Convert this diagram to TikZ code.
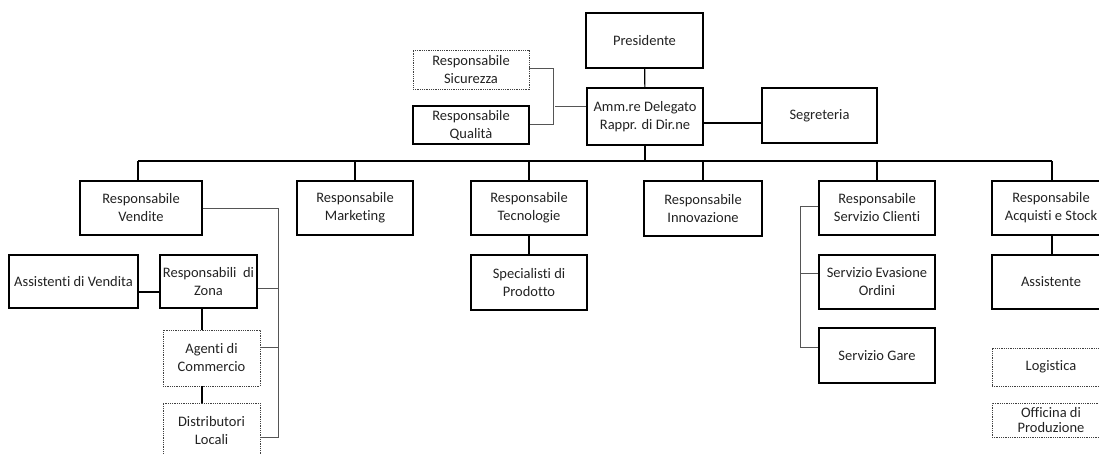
\documentclass[tikz,border=0pt]{standalone}
\usepackage{fontspec}
\setmainfont[Ligatures=NoCommon]{Carlito}
\definecolor{txt}{HTML}{222222}
\definecolor{link}{HTML}{555555}
\tikzset{
  box/.style={draw=black, line width=1.4pt, align=center, inner sep=0pt,
    font=\fontsize{14.5}{18}\selectfont, text=txt},
  dbox/.style={box, draw=black!75, line width=0.9pt, dash pattern=on 0.9pt off 0.9pt},
  conn/.style={draw=black, line width=1.1pt},
  gconn/.style={draw=link, line width=1pt},
}
\begin{document}
\begin{tikzpicture}[x=1pt,y=-1pt]
\useasboundingbox (0,0) rectangle (1099,453);
\clip (0,0) rectangle (1099,453);
% top level
\node[box, minimum width=117, minimum height=55] (pres) at (644.5,40.5) {Presidente};
\node[box, minimum width=116, minimum height=57] (amm) at (645,116.5) {Amm.re Delegato\\Rappr. di Dir.ne};
\node[box, minimum width=115, minimum height=55] (segr) at (819.5,115.5) {Segreteria};
\node[dbox, minimum width=116, minimum height=39] (sic) at (471,69.5) {Responsabile\\Sicurezza};
\node[box, minimum width=116, minimum height=38] (qual) at (471,125) {Responsabile\\Qualità};
% second level
\node[box, minimum width=122, minimum height=54] (vend) at (141,208) {Responsabile\\Vendite};
\node[box, minimum width=116, minimum height=54] (mark) at (355,208) {Responsabile\\Marketing};
\node[box, minimum width=116, minimum height=54] (tecn) at (529,208) {Responsabile\\Tecnologie};
\node[box, minimum width=118, minimum height=55] (innov) at (703,208.5) {Responsabile\\Innovazione};
\node[box, minimum width=116, minimum height=54] (cli) at (877,208) {Responsabile\\Servizio Clienti};
\node[box, minimum width=118, minimum height=54] (acq) at (1051,208) {Responsabile\\Acquisti e Stock};
% third level
\node[box, minimum width=129, minimum height=53] (assv) at (73.5,281.5) {Assistenti di Vendita};
\node[box, minimum width=97, minimum height=53] (zona) at (208.5,281.5) {Responsabili\ \ di\\Zona};
\node[box, minimum width=116, minimum height=55] (spec) at (529,282.5) {Specialisti di\\Prodotto};
\node[box, minimum width=116, minimum height=54] (evas) at (877,282) {Servizio Evasione\\Ordini};
\node[box, minimum width=118, minimum height=54] (assist) at (1051,282) {Assistente};
\node[dbox, minimum width=97, minimum height=56] (agenti) at (211.5,358) {Agenti di\\Commercio};
\node[dbox, minimum width=97, minimum height=55] (distr) at (211.5,430.5) {Distributori\\Locali};
\node[box, minimum width=116, minimum height=55] (gare) at (877,355.5) {Servizio Gare};
\node[dbox, minimum width=118, minimum height=38] (logi) at (1051,367) {Logistica};
\node[dbox, minimum width=118, minimum height=34, font=\fontsize{14.5}{15}\selectfont] (offi) at (1051,420) {Officina di\\Produzione};
% coordinates
\coordinate (busL) at (138,161);
\coordinate (busR) at (1052,161);
\coordinate (bus) at (645,161);
\coordinate (sq) at (553,68);
\coordinate (sqb) at (553,124);
\coordinate (sqm) at (555,106);
\coordinate (sg) at (700,123);
\coordinate (vx) at (278,208);
\coordinate (vz) at (278,288);
\coordinate (va) at (278,347);
\coordinate (vd) at (278,437);
\coordinate (av) at (150,292);
\coordinate (zx) at (202,300);
\coordinate (cx) at (800,206);
\coordinate (ce) at (800,273);
\coordinate (cg) at (800,347);
% top connectors
\draw[conn] (pres) -- (amm);
\draw[conn] (sg -| amm.east) -- (sg -| segr.west);
\draw[gconn] (sqm -| amm.west) -- (sqm);
\draw[gconn] (sic.east |- sq) -- (sq) -- (sqb) -- (qual.east |- sqb);
% bus
\draw[conn] (amm.south) -- (bus);
\draw[conn] (busL) -- (busR);
\draw[conn] (busL) -- (busL |- vend.north);
\draw[conn] (mark.north |- bus) -- (mark.north);
\draw[conn] (tecn.north |- bus) -- (tecn.north);
\draw[conn] (innov.north |- bus) -- (innov.north);
\draw[conn] (cli.north |- bus) -- (cli.north);
\draw[conn] (busR) -- (busR |- acq.north);
% vendite tree
\draw[gconn] (vend.east |- vx) -- (vx) -- (vd) -- (vd -| distr.east);
\draw[gconn] (vz -| zona.east) -- (vz);
\draw[gconn] (va -| agenti.east) -- (va);
\draw[conn] (av -| assv.east) -- (av -| zona.west);
\draw[conn] (zx |- zona.south) -- (zx |- agenti.north);
\draw[conn] (zx |- agenti.south) -- (zx |- distr.north);
% tecnologie
\draw[conn] (tecn) -- (spec);
% servizio clienti bracket
\draw[gconn] (cli.west |- cx) -- (cx) -- (cg) -- (cg -| gare.west);
\draw[gconn] (ce) -- (ce -| evas.west);
% acquisti
\draw[conn] (busR |- acq.south) -- (busR |- assist.north);
\end{tikzpicture}
\end{document}
